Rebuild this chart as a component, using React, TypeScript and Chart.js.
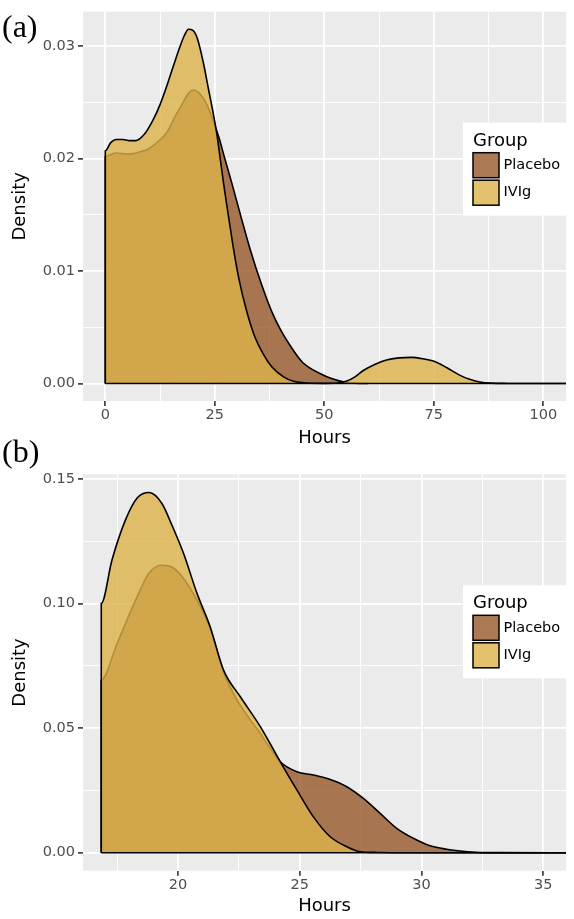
import React, { useEffect, useRef } from "react";
import { Chart, registerables } from "chart.js";

Chart.register(...registerables);
Chart.defaults.font.family = "'DejaVu Sans', 'Noto Sans', sans-serif";

// ---------- shared ----------
const GROUPS = ["Placebo", "IVIg"];
const FILL_PLACEBO = "rgba(150, 87, 40, 0.8)";
const FILL_IVIG = "rgba(221, 179, 72, 0.8)";
const GROUP_FILLS = [FILL_PLACEBO, FILL_IVIG];
const X_TITLE = "Hours";
const Y_TITLE = "Density";
const LEGEND_TITLE = "Group";

// ---------- panel (a) ----------
const A_PLACEBO_HOURS = [0, 0, 2.3, 5.3, 8, 10, 12, 14, 16, 17.5, 19, 20.1, 21.5, 23.2, 24.7, 26, 27, 28.9, 31, 33.1, 35.5, 38, 40, 42, 45, 49, 52, 54.3, 57, 60];
const A_PLACEBO_DENSITY = [0, 0.0202, 0.0205, 0.0204, 0.0206, 0.0209, 0.0215, 0.0223, 0.0238, 0.0248, 0.0258, 0.0261, 0.0258, 0.0248, 0.0233, 0.0218, 0.0204, 0.0178, 0.0148, 0.0119, 0.009, 0.0064, 0.0048, 0.0035, 0.0019, 0.0009, 0.0004, 0.00015, 0.00003, 0];
const A_IVIG_HOURS = [0, 0, 1.2, 2.5, 4, 5.5, 7, 9, 11, 12.5, 14, 15.6, 17, 18, 19, 20, 21, 22.4, 23.5, 24.7, 25.5, 26.2, 27, 28, 29.3, 30.5, 32.3, 34, 36.1, 38, 40.7, 43, 46, 50, 53, 55, 57, 58.9, 61.5, 64.2, 67, 69.9, 72.5, 75.6, 78, 81, 83, 85.5, 88, 92, 96, 105.2];
const A_IVIG_DENSITY = [0, 0.0207, 0.0214, 0.0217, 0.0217, 0.0216, 0.0216, 0.0222, 0.0235, 0.0248, 0.0264, 0.0283, 0.0299, 0.0309, 0.0315, 0.0314, 0.0307, 0.0285, 0.0263, 0.0239, 0.0221, 0.0201, 0.0178, 0.0152, 0.0119, 0.0093, 0.0064, 0.0043, 0.0026, 0.0015, 0.0006, 0.0002, 0.00005, 0.00002, 0.00005, 0.0002, 0.0006, 0.00116, 0.0017, 0.0021, 0.00228, 0.00233, 0.0022, 0.0019, 0.0014, 0.00073, 0.0004, 0.00014, 0.00004, 0.00001, 0, 0];
const A_X_RANGE = [-5.09, 105.18];
const A_Y_RANGE = [-0.00155, 0.03306];
const A_X_TICKS = [0, 12.5, 25, 37.5, 50, 62.5, 75, 87.5, 100];
const A_X_LABELS = ["0", "", "25", "", "50", "", "75", "", "100"];
const A_Y_TICKS = [0, 0.005, 0.01, 0.015, 0.02, 0.025, 0.03];
const A_Y_LABELS = ["0.00", "", "0.01", "", "0.02", "", "0.03"];

// ---------- panel (b) ----------
const B_PLACEBO_HOURS = [16.85, 16.85, 17.5, 18.32, 18.8, 19.32, 19.78, 20.23, 20.78, 21.32, 21.87, 22.42, 23.38, 24.2, 24.88, 25.56, 26.25, 26.93, 27.61, 28.3, 28.98, 29.66, 30.35, 31.03, 31.7, 32.4, 33.1, 35.93];
const B_PLACEBO_DENSITY = [0, 0.0693, 0.084, 0.1027, 0.1121, 0.1154, 0.1145, 0.1101, 0.1014, 0.09, 0.0725, 0.0613, 0.0479, 0.0365, 0.0325, 0.0312, 0.0294, 0.0265, 0.0218, 0.0158, 0.0098, 0.0058, 0.0028, 0.0014, 0.0006, 0.0001, 0.00002, 0];
const B_IVIG_HOURS = [16.85, 16.85, 17.29, 17.84, 18.34, 18.82, 19.34, 19.75, 20.23, 20.78, 21.32, 21.87, 22.56, 23.38, 24.2, 24.88, 25.56, 26.25, 26.93, 27.48, 28.2, 29, 35.93];
const B_IVIG_DENSITY = [0, 0.1001, 0.1175, 0.1335, 0.1426, 0.1446, 0.1402, 0.1315, 0.1201, 0.1041, 0.0907, 0.0733, 0.0626, 0.0506, 0.0365, 0.0252, 0.0144, 0.0064, 0.0024, 0.0004, 0.0001, 0, 0];
const B_X_RANGE = [16.1, 35.93];
const B_Y_RANGE = [-0.00722, 0.1519];
const B_X_TICKS = [17.5, 20, 22.5, 25, 27.5, 30, 32.5, 35];
const B_X_LABELS = ["", "20", "", "25", "", "30", "", "35"];
const B_Y_TICKS = [0, 0.025, 0.05, 0.075, 0.1, 0.125, 0.15];
const B_Y_LABELS = ["0.00", "", "0.05", "", "0.10", "", "0.15"];

const zip = (xs: number[], ys: number[]) => xs.map((x, i) => ({ x, y: ys[i] }));

const panelBg = {
  id: "panelBg",
  beforeDraw(chart: any) {
    const { ctx, chartArea } = chart;
    ctx.save();
    ctx.fillStyle = "#EBEBEB";
    ctx.fillRect(chartArea.left, chartArea.top, chartArea.right - chartArea.left, chartArea.bottom - chartArea.top);
    ctx.restore();
  },
};

const groupLegend = {
  id: "groupLegend",
  afterDraw(chart: any) {
    const { ctx, chartArea } = chart;
    const w = 103;
    const h = 93;
    const left = chartArea.right - w;
    const top = chartArea.top + 111;
    ctx.save();
    ctx.fillStyle = "#FFFFFF";
    ctx.fillRect(left, top, w, h);
    ctx.fillStyle = "#000";
    ctx.font = "18px 'DejaVu Sans'";
    ctx.textAlign = "left";
    ctx.textBaseline = "alphabetic";
    ctx.fillText(LEGEND_TITLE, left + 10, top + 23);
    GROUPS.forEach((g, i) => {
      const ky = top + 30 + i * 27.5;
      ctx.fillStyle = GROUP_FILLS[i];
      ctx.fillRect(left + 10, ky, 26, 25);
      ctx.strokeStyle = "#000";
      ctx.lineWidth = 1.5;
      ctx.strokeRect(left + 10, ky, 26, 25);
      ctx.fillStyle = "#000";
      ctx.font = "14.5px 'DejaVu Sans'";
      ctx.textBaseline = "middle";
      ctx.fillText(g, left + 40.5, ky + 12.5);
    });
    ctx.restore();
  },
};

function gridOpts(labels: string[]) {
  return {
    color: "#FFFFFF",
    lineWidth: (c: any) => (labels[c.index] ? 1.8 : 0.9),
    tickColor: (c: any) => (labels[c.index] ? "#333333" : "rgba(0,0,0,0)"),
    tickWidth: 1.6,
    tickLength: 5,
    drawTicks: true,
  };
}

type PanelProps = {
  top: number;
  height: number;
  padTop: number;
  xAxisHeight: number;
  xTitlePad: number;
  xRange: number[];
  yRange: number[];
  xTicks: number[];
  xLabels: string[];
  yTicks: number[];
  yLabels: string[];
  placeboHours: number[];
  placeboDensity: number[];
  ivigHours: number[];
  ivigDensity: number[];
};

function DensityPanel(p: PanelProps) {
  const ref = useRef<HTMLCanvasElement | null>(null);
  useEffect(() => {
    const canvas = ref.current;
    if (!canvas) return;
    const start = Math.min(p.placeboHours[0], p.ivigHours[0]);
    const chart = new Chart(canvas, {
      type: "line",
      data: {
        datasets: [
          {
            label: "baseline",
            data: [
              { x: start, y: 0 },
              { x: p.xRange[1], y: 0 },
            ],
            borderColor: "#000",
            borderWidth: 1.6,
            pointRadius: 0,
            fill: false,
            order: 0,
          },
          {
            label: GROUPS[1],
            data: zip(p.ivigHours, p.ivigDensity),
            borderColor: "#000",
            borderWidth: 1.6,
            backgroundColor: FILL_IVIG,
            fill: "origin",
            pointRadius: 0,
            cubicInterpolationMode: "monotone",
            borderJoinStyle: "round",
            order: 1,
          },
          {
            label: GROUPS[0],
            data: zip(p.placeboHours, p.placeboDensity),
            borderColor: "#000",
            borderWidth: 1.6,
            backgroundColor: FILL_PLACEBO,
            fill: "origin",
            pointRadius: 0,
            cubicInterpolationMode: "monotone",
            borderJoinStyle: "round",
            order: 2,
          },
        ] as any,
      },
      options: {
        responsive: false,
        animation: false,
        devicePixelRatio: 1,
        events: [],
        layout: { padding: { left: 0, right: 8, top: p.padTop, bottom: 0 } },
        plugins: {
          legend: { display: false },
          tooltip: { enabled: false },
        },
        scales: {
          x: {
            type: "linear",
            min: p.xRange[0],
            max: p.xRange[1],
            bounds: "data",
            afterBuildTicks: (s: any) => {
              s.ticks = p.xTicks.map((v) => ({ value: v }));
            },
            afterFit: (s: any) => {
              s.height = p.xAxisHeight;
            },
            grid: gridOpts(p.xLabels) as any,
            border: { display: false },
            ticks: {
              autoSkip: false,
              maxRotation: 0,
              padding: 0.5,
              color: "#4D4D4D",
              font: { size: 14.5, lineHeight: 1.2 },
              callback: (_v: any, i: number) => p.xLabels[i],
            },
            title: {
              display: true,
              text: X_TITLE,
              color: "#000",
              font: { size: 18, lineHeight: 1.2 },
              padding: { top: 0, bottom: p.xTitlePad },
            },
          },
          y: {
            type: "linear",
            min: p.yRange[0],
            max: p.yRange[1],
            bounds: "data",
            afterBuildTicks: (s: any) => {
              s.ticks = p.yTicks.map((v) => ({ value: v }));
            },
            afterFit: (s: any) => {
              s.width = 83;
            },
            grid: gridOpts(p.yLabels) as any,
            border: { display: false },
            ticks: {
              autoSkip: false,
              padding: 3,
              color: "#4D4D4D",
              font: { size: 14.5, lineHeight: 1.2 },
              callback: (_v: any, i: number) => p.yLabels[i],
            },
            title: {
              display: true,
              text: Y_TITLE,
              color: "#000",
              font: { size: 18, lineHeight: 1.2 },
              padding: { top: 10, bottom: 0 },
            },
          },
        },
      } as any,
      plugins: [panelBg, groupLegend],
    });
    return () => chart.destroy();
  }, []);
  return (
    <canvas
      ref={ref}
      width={574}
      height={p.height}
      style={{ position: "absolute", left: 0, top: p.top, width: 574, height: p.height }}
    />
  );
}

const labelStyle = (top: number): React.CSSProperties => ({
  position: "absolute",
  left: 2,
  top,
  fontFamily: "'Liberation Serif', 'Times New Roman', serif",
  fontSize: 32,
  lineHeight: "32px",
  color: "#000",
  whiteSpace: "nowrap",
});

export default function App() {
  return (
    <div style={{ position: "absolute", left: 0, top: 0, width: 574, height: 919, background: "#fff", overflow: "hidden" }}>
      <DensityPanel
        top={0}
        height={450}
        padTop={5}
        xAxisHeight={49}
        xTitlePad={0.4}
        xRange={A_X_RANGE}
        yRange={A_Y_RANGE}
        xTicks={A_X_TICKS}
        xLabels={A_X_LABELS}
        yTicks={A_Y_TICKS}
        yLabels={A_Y_LABELS}
        placeboHours={A_PLACEBO_HOURS}
        placeboDensity={A_PLACEBO_DENSITY}
        ivigHours={A_IVIG_HOURS}
        ivigDensity={A_IVIG_DENSITY}
      />
      <DensityPanel
        top={430}
        height={489}
        padTop={44.3}
        xAxisHeight={48.3}
        xTitlePad={1.4}
        xRange={B_X_RANGE}
        yRange={B_Y_RANGE}
        xTicks={B_X_TICKS}
        xLabels={B_X_LABELS}
        yTicks={B_Y_TICKS}
        yLabels={B_Y_LABELS}
        placeboHours={B_PLACEBO_HOURS}
        placeboDensity={B_PLACEBO_DENSITY}
        ivigHours={B_IVIG_HOURS}
        ivigDensity={B_IVIG_DENSITY}
      />
      <div style={labelStyle(10)}>(a)</div>
      <div style={labelStyle(435)}>(b)</div>
    </div>
  );
}
